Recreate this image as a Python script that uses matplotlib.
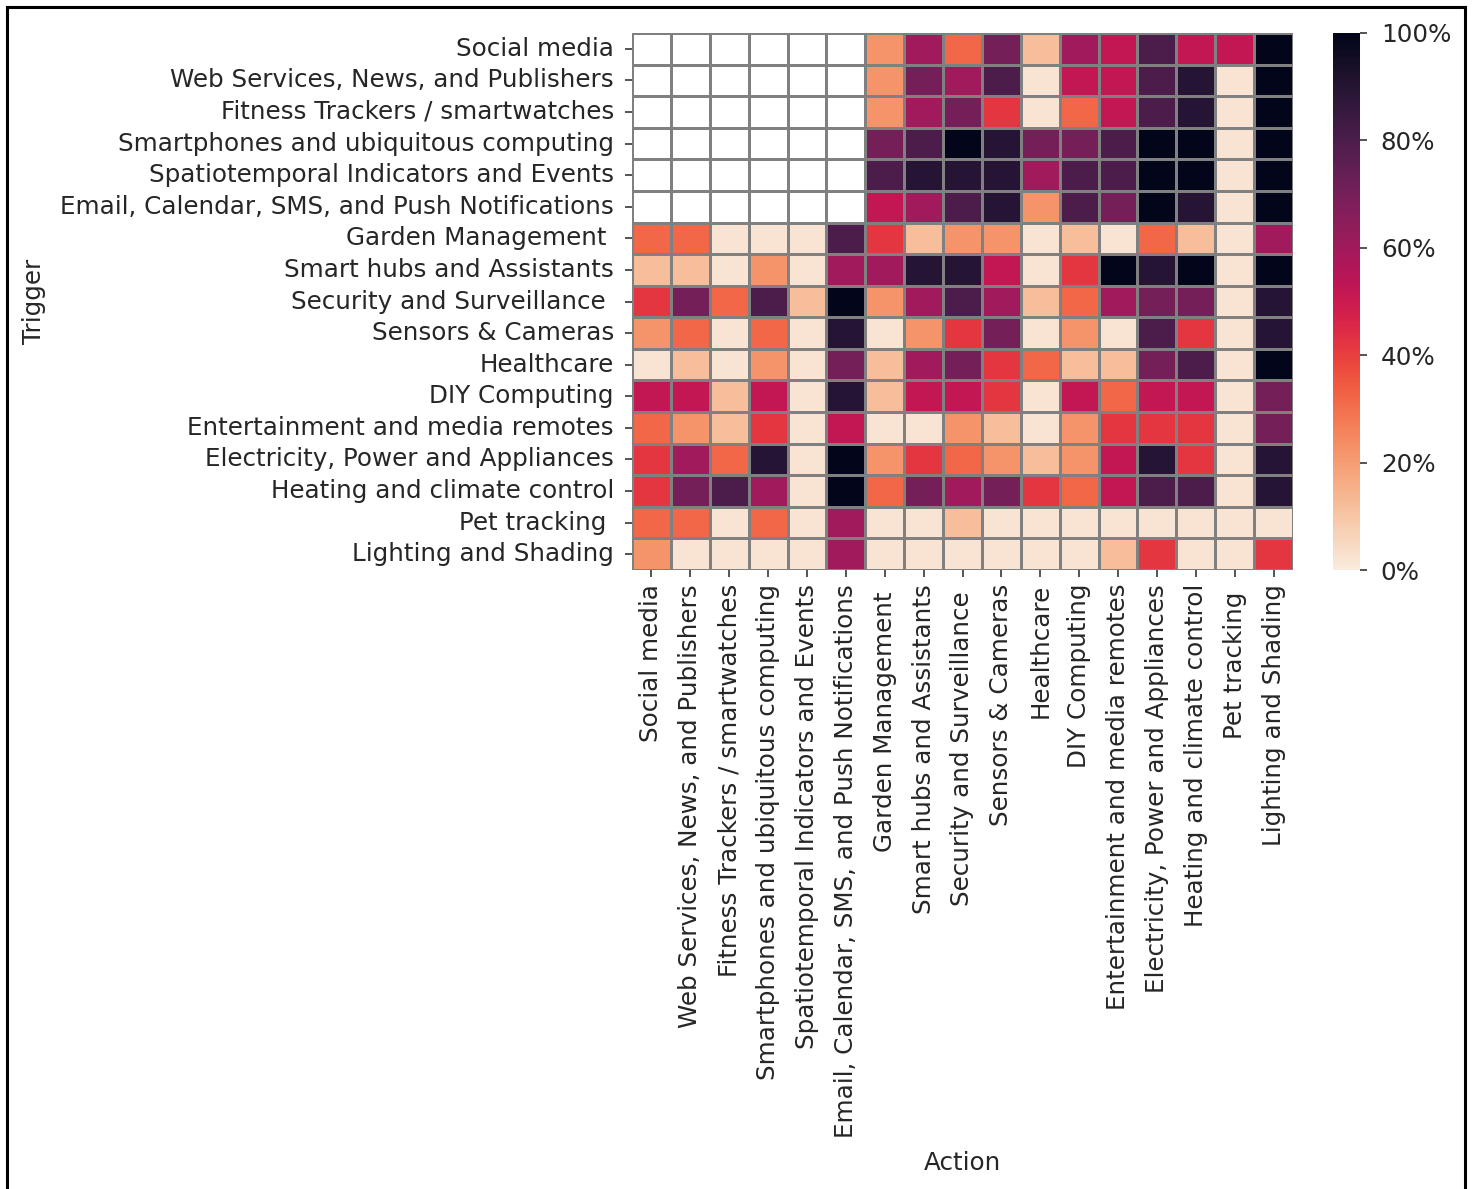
import numpy as np
import pandas as pd
import matplotlib as mpl
mpl.use('Agg')
import matplotlib.pyplot as plt
import matplotlib.ticker as mticker
from matplotlib.lines import Line2D
import seaborn as sns

# Trigger (rows) and Action (columns) categories
triggers = ['Social media', 'Web Services, News, and Publishers', 'Fitness Trackers / smartwatches',
            'Smartphones and ubiquitous computing', 'Spatiotemporal Indicators and Events',
            'Email, Calendar, SMS, and Push Notifications', 'Garden Management ',
            'Smart hubs and Assistants', 'Security and Surveillance ', 'Sensors & Cameras',
            'Healthcare', 'DIY Computing', 'Entertainment and media remotes',
            'Electricity, Power and Appliances', 'Heating and climate control', 'Pet tracking ',
            'Lighting and Shading']
actions = list(triggers)

N = np.nan
# share of applets (%) per trigger/action pair
r_social = [N, N, N, N, N, N, 22, 60, 32, 70, 12, 60, 52, 80, 52, 52, 100]
r_web = [N, N, N, N, N, N, 22, 70, 60, 80, 2, 52, 52, 80, 90, 2, 100]
r_fitness = [N, N, N, N, N, N, 22, 60, 70, 42, 2, 32, 52, 80, 90, 2, 100]
r_phones = [N, N, N, N, N, N, 70, 80, 100, 90, 70, 70, 80, 100, 100, 2, 100]
r_spatio = [N, N, N, N, N, N, 80, 90, 90, 90, 60, 80, 80, 100, 100, 2, 100]
r_email = [N, N, N, N, N, N, 52, 60, 80, 90, 22, 80, 70, 100, 90, 2, 100]
r_garden = [32, 32, 2, 2, 2, 80, 42, 12, 22, 22, 2, 12, 2, 32, 12, 2, 60]
r_hubs = [12, 12, 2, 22, 2, 60, 60, 90, 90, 52, 2, 42, 100, 90, 100, 2, 100]
r_security = [42, 70, 32, 80, 12, 100, 22, 60, 80, 60, 12, 32, 60, 70, 70, 2, 90]
r_sensors = [22, 32, 2, 32, 2, 90, 2, 22, 42, 70, 2, 22, 2, 80, 42, 2, 90]
r_health = [2, 12, 2, 22, 2, 70, 12, 60, 70, 42, 32, 12, 12, 70, 80, 2, 100]
r_diy = [52, 52, 12, 52, 2, 90, 12, 52, 52, 42, 2, 52, 32, 52, 52, 2, 70]
r_entert = [32, 22, 12, 42, 2, 52, 2, 2, 22, 12, 2, 22, 42, 42, 42, 2, 70]
r_power = [42, 60, 32, 90, 2, 100, 22, 42, 32, 22, 12, 22, 52, 90, 42, 2, 90]
r_heating = [42, 70, 80, 60, 2, 100, 32, 70, 60, 70, 42, 32, 52, 80, 80, 2, 90]
r_pet = [32, 32, 2, 32, 2, 60, 2, 2, 12, 2, 2, 2, 2, 2, 2, 2, 2]
r_light = [22, 2, 2, 2, 2, 60, 2, 2, 2, 2, 2, 2, 12, 42, 2, 2, 42]

rows = [r_social, r_web, r_fitness, r_phones, r_spatio, r_email, r_garden, r_hubs,
        r_security, r_sensors, r_health, r_diy, r_entert, r_power, r_heating, r_pet, r_light]
df = pd.DataFrame(np.array(rows, dtype=float) / 100.0, index=triggers, columns=actions)

plt.rcParams['font.family'] = ['DejaVu Sans']
fig = plt.figure(figsize=(14.73, 11.89), dpi=100)
W, H = 1473.0, 1189.0
ax = fig.add_axes([632 / W, 1 - 570 / H, 661 / W, 537 / H])
cax = fig.add_axes([1333 / W, 1 - 570 / H, 27 / W, 537 / H])

sns.heatmap(df, ax=ax, cbar_ax=cax, cmap='rocket_r', vmin=0, vmax=1,
            linewidths=0.8, linecolor='gray',
            cbar_kws={'format': mticker.PercentFormatter(xmax=1, decimals=0),
                      'ticks': [0, 0.2, 0.4, 0.6, 0.8, 1.0]})

fs = 17.7
txt = '#262626'
ax.set_xticks(np.arange(len(actions)) + 0.5)
ax.set_yticks(np.arange(len(triggers)) + 0.5)
ax.set_xticklabels(actions, rotation=90, fontsize=fs, color=txt)
ax.set_yticklabels(triggers, rotation=0, fontsize=fs, color=txt)
ax.tick_params(length=5, width=1.1, color=txt, pad=5)
ax.tick_params(axis='y', pad=8)
ax.set_xlabel('Action', fontsize=fs, color=txt)
ax.set_ylabel('Trigger', fontsize=fs, color=txt)
ax.yaxis.set_label_coords((46 - 632) / 661, 0.5)
ax.xaxis.set_label_coords(0.5, (570 - 1163) / 537)
ax.xaxis.label.set_va('center')

cax.tick_params(labelsize=fs, length=5, width=1.1, color=txt, labelcolor=txt, pad=10)
cax.yaxis.set_major_formatter(mticker.PercentFormatter(xmax=1, decimals=0))

# screenshot frame
fx0, fx1, fy = 6.5 / W, 1464.5 / W, 1 - 6.5 / H
for xs, ys in [([fx0, fx1], [fy, fy]), ([fx0, fx0], [fy, 0]), ([fx1, fx1], [fy, 0])]:
    fig.add_artist(Line2D(xs, ys, color='black', lw=2.2, transform=fig.transFigure))

fig.savefig('out.png', dpi=100)
